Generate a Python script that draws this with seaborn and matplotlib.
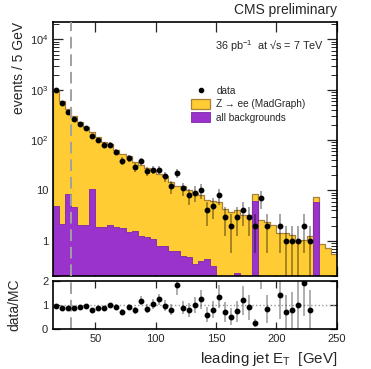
import numpy as np
import pandas as pd
import matplotlib
matplotlib.use("Agg")
import matplotlib.pyplot as plt
from matplotlib.lines import Line2D
from matplotlib.patches import Patch
from matplotlib.ticker import FixedLocator, LogLocator, NullFormatter, FixedFormatter
import seaborn as sns

# 5 GeV bins of leading jet E_T
bin_edges = list(range(15, 255, 5))

data_counts = [970, 537, 367, 264, 210, 170, 120, 100, 81, 81,
               59, 39, 44, 29, 38, 24, 26, 26, 19, 12,
               22, 11, 8, 9, 10, 4, 5, 8, 3, 2,
               3, 4, 3, 2, 7, 2, 0, 2, 1, 1,
               1, 2, 1, 0, 0, 0, 0]

# total MC (Z->ee + backgrounds), i.e. the top of the stack
mc_total = [1000, 597, 422, 300, 232, 178, 148, 115, 92, 82,
            63, 54, 48, 37, 32, 28, 25, 21, 19.5, 15,
            12, 12.3, 10, 9, 8, 6.6, 6.2, 5.9, 4.2, 3.8,
            4.0, 3.3, 3.3, 8.4, 2.6, 2.4, 2.1, 1.4, 1.4, 1.28,
            1.0, 1.05, 1.23, 7.4, 0.86, 0.72, 0.55]

bkg = [5.0, 2.2, 8.7, 4.6, 2.1, 2.05, 10.5, 1.9, 1.92, 2.1,
       1.84, 1.82, 1.48, 1.57, 1.22, 1.2, 1.08, 0.8, 0.79, 0.64,
       0.62, 0.49, 0.48, 0.35, 0.4, 0.44, 0.32, 0.15, 0, 0,
       0.23, 0, 0, 6.1, 0, 0, 0, 0, 0, 0,
       0, 0, 0, 5.8, 0, 0, 0]

jet_cut = 30

yellow = "#ffcc33"
yellow_edge = "#a9803a"
purple = "#9933cc"
purple_edge = "#7a2aa6"

sns.set_theme(style="ticks")
plt.rcParams["font.family"] = ["Liberation Sans", "DejaVu Sans"]
plt.rcParams["mathtext.default"] = "regular"

edges = np.array(bin_edges, dtype=float)
centers = 0.5 * (edges[:-1] + edges[1:])
df = pd.DataFrame({"et": centers, "mc": mc_total, "bkg": bkg, "data": data_counts})
data = df["data"].to_numpy(dtype=float)
mc = df["mc"].to_numpy(dtype=float)
data_plot = np.where(data > 0, data, np.nan)
err = np.sqrt(data_plot)

fig = plt.figure(figsize=(3.71, 3.69), dpi=100)
ax = fig.add_axes([0.143, 0.252, 0.765, 0.688])
rax = fig.add_axes([0.143, 0.108, 0.765, 0.130])

# stacked MC: total in yellow, backgrounds in purple on top
sns.histplot(data=df, x="et", weights="mc", bins=bin_edges, element="step", fill=True,
             color=yellow, alpha=1, edgecolor=yellow_edge, linewidth=0.9, ax=ax)
sns.histplot(data=df, x="et", weights="bkg", bins=bin_edges, element="step", fill=True,
             color=purple, alpha=1, edgecolor=purple_edge, linewidth=0.6, ax=ax)

ax.errorbar(centers, data_plot, yerr=err, fmt="o", ms=3.2, color="black",
            ecolor=(0, 0, 0, 0.45), elinewidth=1.1, capsize=0, zorder=5)

ax.set_yscale("log")
ax.set_ylim(0.2, 2.2e4)
ax.set_xlim(15, 250)
ax.axvline(jet_cut, color="#a0a0a0", ls=(0, (6, 3)), lw=1.4, zorder=6)

ax.yaxis.set_major_locator(FixedLocator([1, 10, 100, 1000, 10000]))
ax.yaxis.set_major_formatter(FixedFormatter(["1", "10", "$10^{2}$", "$10^{3}$", "$10^{4}$"]))
ax.yaxis.set_minor_locator(LogLocator(base=10, subs=np.arange(2, 10)))
ax.yaxis.set_minor_formatter(NullFormatter())
ax.xaxis.set_major_locator(FixedLocator([50, 100, 150, 200, 250]))
ax.tick_params(axis="x", labelbottom=False)
ax.set_xlabel("")
ylab = ax.set_ylabel("events / 5 GeV", fontsize=10)
ylab.set_rotation_mode("default")
ylab.set_va("top")
ylab.set_ha("center")
ax.yaxis.set_label_coords(-0.121, 1.0)

# ratio panel
ratio = data_plot / mc
rerr = err / mc
rax.errorbar(centers, ratio, yerr=rerr, fmt="o", ms=3.2, color="black",
             ecolor=(0, 0, 0, 0.4), elinewidth=1.1, capsize=0, zorder=5)
rax.axhline(1, color="#999999", ls=":", lw=1)
rax.axvline(jet_cut, color="#a0a0a0", ls=(0, (6, 3)), lw=1.4)
rax.set_xlim(15, 250)
rax.set_ylim(0, 2)
rax.yaxis.set_major_locator(FixedLocator([0, 1, 2]))
rax.xaxis.set_major_locator(FixedLocator([50, 100, 150, 200, 250]))
rax.set_ylabel("data/MC", fontsize=10)
rax.yaxis.set_label_coords(-0.11, 0.5)
rax.set_xlabel("leading jet E$_{T}$  [GeV]", fontsize=10.8, loc="right")

for a in (ax, rax):
    a.tick_params(which="both", direction="in", top=True, right=True, labelsize=8)
    a.tick_params(which="major", length=7, width=0.9)
    a.tick_params(which="minor", length=4, width=0.7)
    for s in a.spines.values():
        s.set_linewidth(1.2)
        s.set_color("black")
rax.tick_params(which="major", length=5)

handles = [Line2D([], [], marker="o", ls="none", color="black", ms=3),
           Patch(facecolor=yellow, edgecolor=yellow_edge, lw=0.9),
           Patch(facecolor=purple, edgecolor=purple_edge, lw=0.6)]
labels = ["data", "Z → ee (MadGraph)", "all backgrounds"]
ax.legend(handles, labels, loc="upper left", bbox_to_anchor=(0.47, 0.77),
          frameon=False, fontsize=7.2, handlelength=1.9, handleheight=1.15,
          handletextpad=0.6, labelspacing=0.3, borderpad=0)

fig.text(0.908, 0.955, "CMS preliminary", ha="right", va="bottom", fontsize=10)
ax.text(0.955, 0.905, "36 pb$^{-1}$  at √s = 7 TeV", transform=ax.transAxes,
        ha="right", va="center", fontsize=7.8)

fig.savefig("out.png", dpi=100)
